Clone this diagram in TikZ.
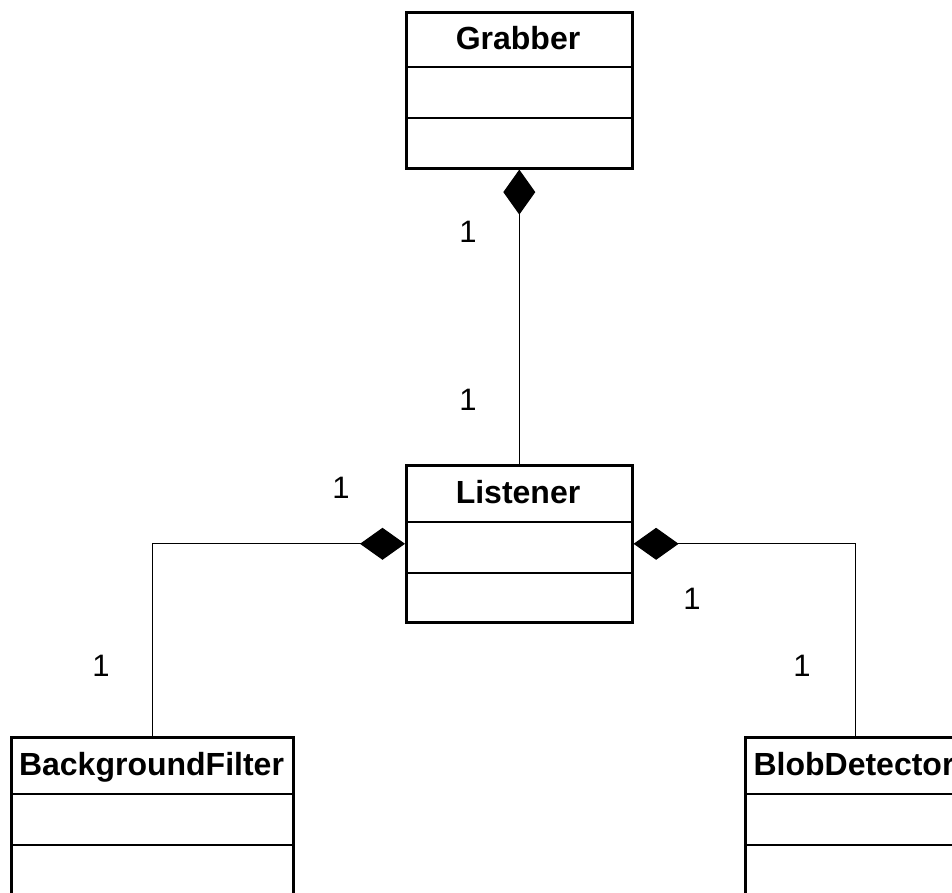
\documentclass[tikz,border=0pt]{standalone}
\usepackage{fontspec}
\setmainfont{Liberation Sans}
\usetikzlibrary{arrows.meta}
\tikzset{
  classbox/.style={draw=black, line width=2.6pt, fill=white, rectangle, inner sep=0pt, anchor=north west},
  classtitle/.style={font=\fontsize{32}{38}\selectfont\bfseries, anchor=base, inner sep=0pt},
  compline/.style={line width=2.6pt},
  compo/.style={line width=1.2pt, {Diamond[length=45pt,width=32pt,fill=black]}-},
  mult/.style={font=\fontsize{31}{37}\selectfont, inner sep=0pt}
}
\begin{document}
\begin{tikzpicture}[x=1pt,y=-1pt]
\useasboundingbox (0,0) rectangle (952,893);
\fill[white] (0,0) rectangle (952,893);
\clip (0,0) rectangle (952,893);

% Grabber
\node[classbox, minimum width=226pt, minimum height=156pt] (grab) at (405,11) {};
\node[classtitle] (grabT) at (518,50) {Grabber};
\draw[compline] ([yshift=-56pt]grab.north west) -- ([yshift=-56pt]grab.north east);
\draw[compline] ([yshift=-107pt]grab.north west) -- ([yshift=-107pt]grab.north east);

% Listener
\node[classbox, minimum width=226pt, minimum height=157pt] (lis) at (405,464) {};
\node[classtitle] (lisT) at (518,503) {Listener};
\draw[compline] ([yshift=-58pt]lis.north west) -- ([yshift=-58pt]lis.north east);
\draw[compline] ([yshift=-109pt]lis.north west) -- ([yshift=-109pt]lis.north east);

% BackgroundFilter
\node[classbox, minimum width=282pt, minimum height=200pt] (bf) at (10,736) {};
\node[classtitle] (bfT) at (151.5,775) {BackgroundFilter};
\draw[compline] ([yshift=-58pt]bf.north west) -- ([yshift=-58pt]bf.north east);
\draw[compline] ([yshift=-109pt]bf.north west) -- ([yshift=-109pt]bf.north east);

% BlobDetector
\node[classbox, minimum width=220pt, minimum height=200pt] (bd) at (744,736) {};
\node[classtitle] (bdT) at (854,775) {BlobDetector};
\draw[compline] ([yshift=-58pt]bd.north west) -- ([yshift=-58pt]bd.north east);
\draw[compline] ([yshift=-109pt]bd.north west) -- ([yshift=-109pt]bd.north east);

% connectors
\draw[compo] (grab.south) -- (lis.north);
\draw[compo] (lis.west) -| (bf.north);
\draw[compo] (lis.east) -| (bd.north);

% multiplicities
\node[mult] (m1) at (468,232) {1};
\node[mult] (m2) at (468,400) {1};
\node[mult] (m3) at (341,488) {1};
\node[mult] (m4) at (692,599) {1};
\node[mult] (m5) at (101,666) {1};
\node[mult] (m6) at (802,666) {1};
\end{tikzpicture}
\end{document}
